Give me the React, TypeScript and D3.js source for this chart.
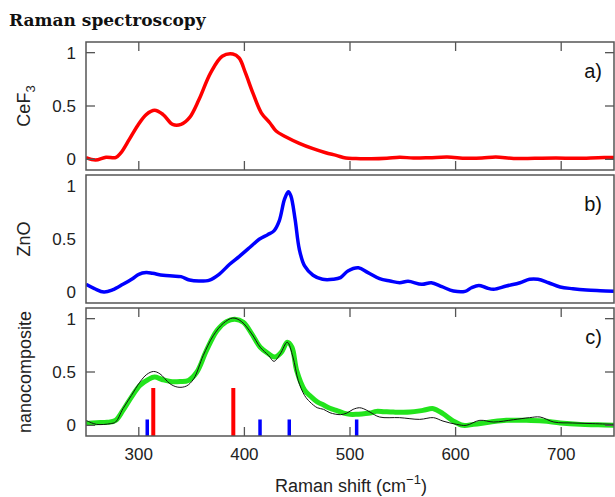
import * as d3 from "d3";

// CeF3 spectrum (panel a)
const cef3X = [250, 259, 269, 278, 283, 291, 299, 307, 315, 323, 332, 340, 348, 357, 368, 379, 389, 395, 401, 408, 416, 424, 430, 439, 452, 465, 477, 487, 496, 505, 520, 535, 547, 560, 575, 592, 610, 625, 638, 655, 675, 695, 715, 735, 750];
const cef3Y = [0.016, -0.006, 0.02, 0.016, 0.06, 0.187, 0.318, 0.42, 0.46, 0.42, 0.327, 0.327, 0.39, 0.56, 0.81, 0.966, 0.987, 0.95, 0.81, 0.623, 0.436, 0.343, 0.265, 0.212, 0.15, 0.1, 0.062, 0.037, 0.012, 0.008, 0.005, 0.01, 0.02, 0.012, 0.015, 0.022, 0.01, 0.012, 0.022, 0.008, 0.01, 0.012, 0.01, 0.015, 0.018];

// ZnO spectrum (panel b)
const znoX = [250, 258, 267, 275, 285, 294, 300, 307, 313, 323, 332, 340, 348, 357, 367, 376, 386, 395, 405, 414, 422, 428, 433, 438, 441.6, 444, 448, 452, 457, 465, 474, 484, 491, 498, 508, 517, 528, 538, 547, 555, 568, 577, 587, 598, 609, 615, 622, 629, 636, 648, 661, 670, 678, 688, 699, 711, 724, 737, 750];
const znoY = [0.075, 0.035, 0.003, 0.022, 0.075, 0.128, 0.169, 0.185, 0.178, 0.16, 0.153, 0.147, 0.115, 0.106, 0.115, 0.169, 0.263, 0.335, 0.42, 0.498, 0.54, 0.576, 0.67, 0.873, 0.942, 0.904, 0.685, 0.404, 0.247, 0.16, 0.122, 0.122, 0.138, 0.2, 0.23, 0.185, 0.128, 0.106, 0.09, 0.103, 0.075, 0.09, 0.053, 0.012, 0.009, 0.043, 0.065, 0.043, 0.028, 0.059, 0.09, 0.122, 0.122, 0.09, 0.05, 0.034, 0.022, 0.015, 0.009];

// nanocomposite, measured (green)
const compX = [250, 260, 270, 278, 285, 293, 301, 309, 315, 322, 330, 339, 347, 355, 364, 374, 383, 391, 399, 407, 415, 423, 429, 435, 440.6, 445, 449.5, 457, 463, 469, 475, 481, 487, 494, 500, 506, 513, 519, 525, 532, 541, 557, 569, 579, 588, 598, 607, 617, 633, 648, 667, 683, 699, 718, 735, 750];
const compY = [0.016, 0.025, 0.028, 0.047, 0.14, 0.265, 0.374, 0.43, 0.452, 0.43, 0.411, 0.411, 0.42, 0.5, 0.7, 0.888, 0.972, 0.994, 0.966, 0.857, 0.732, 0.67, 0.64, 0.685, 0.779, 0.732, 0.514, 0.33, 0.27, 0.22, 0.19, 0.16, 0.14, 0.115, 0.103, 0.103, 0.109, 0.115, 0.131, 0.128, 0.124, 0.124, 0.14, 0.156, 0.109, 0.04, 0.0, 0.009, 0.031, 0.047, 0.047, 0.04, 0.022, 0.009, 0.005, 0.0];

// nanocomposite, fit (black)
const fitX = [250, 260, 273, 278, 285, 293, 301, 307.5, 314, 320, 329.5, 337, 345, 352, 361, 370.5, 380, 389, 397, 407, 415, 423, 428, 434, 440.6, 446, 451, 457, 462, 469, 475, 481, 491, 497, 503, 509, 513, 519, 528, 547, 566, 579, 588, 601, 610, 623, 636, 655, 670, 680, 693, 711, 730, 750];
const fitY = [0.047, 0.009, 0.016, 0.031, 0.156, 0.28, 0.405, 0.477, 0.505, 0.483, 0.39, 0.358, 0.368, 0.436, 0.654, 0.84, 0.956, 1.006, 0.975, 0.857, 0.732, 0.654, 0.6, 0.67, 0.779, 0.64, 0.42, 0.28, 0.22, 0.165, 0.15, 0.118, 0.1, 0.115, 0.15, 0.165, 0.155, 0.124, 0.078, 0.072, 0.056, 0.072, 0.04, 0.009, 0.0, 0.047, 0.031, 0.053, 0.072, 0.078, 0.031, 0.022, 0.016, 0.009];

// reference line positions
const cef3Lines = [313.7, 389.5];
const cef3LineHeight = 0.35;
const znoLines = [308, 414.8, 442.5, 506.3];
const znoLineHeight = 0.055;

const xTicks = [300, 400, 500, 600, 700];
const yTicks = [0, 0.5, 1];
const yTickLabels = ["0", "0.5", "1"];

const W = 615;
const H = 497;
const left = 86;
const right = 614;
const frame = "#555";
const tickLen = 9;
const font = "'Liberation Sans', Arial, sans-serif";

const panels = [
  { top: 42, bottom: 170, tag: "a)", ticks: true },
  { top: 175, bottom: 303, tag: "b)", ticks: false },
  { top: 308, bottom: 436, tag: "c)", ticks: true },
];

const x = d3.scaleLinear().domain([250, 750]).range([left, right]);

const makeY = (p) => d3.scaleLinear().domain([-0.1, 1.1]).range([p.bottom, p.top]);

const pathOf = (xs, ys, y) =>
  d3
    .line()
    .x((d) => x(d[0]))
    .y((d) => y(d[1]))
    .curve(d3.curveCatmullRom.alpha(0.5))(xs.map((v, i) => [v, ys[i]]));

const Panel = ({ p, idx, children }) => {
  const y = makeY(p);
  return (
    <g>
      <defs>
        <clipPath id={`clip${idx}`}>
          <rect x={left} y={p.top} width={right - left} height={p.bottom - p.top} />
        </clipPath>
      </defs>
      <g clipPath={`url(#clip${idx})`}>{children(y)}</g>
      {p.ticks &&
        xTicks.map((t) => (
          <g key={t} stroke={frame} strokeWidth={1.3}>
            <line x1={x(t)} x2={x(t)} y1={p.top} y2={p.top + tickLen} />
            <line x1={x(t)} x2={x(t)} y1={p.bottom} y2={p.bottom - tickLen} />
          </g>
        ))}
      {p.ticks &&
        yTicks.map((t) => (
          <g key={t} stroke={frame} strokeWidth={1.3}>
            <line x1={left} x2={left + tickLen} y1={y(t)} y2={y(t)} />
            <line x1={right} x2={right - tickLen} y1={y(t)} y2={y(t)} />
          </g>
        ))}
      {yTicks.map((t, i) => (
        <text
          key={t}
          x={76}
          y={y(t)}
          dy="0.36em"
          textAnchor="end"
          fontSize={17}
          fontFamily={font}
          fill="#222"
        >
          {yTickLabels[i]}
        </text>
      ))}
      <rect
        x={left}
        y={p.top}
        width={right - left}
        height={p.bottom - p.top}
        fill="none"
        stroke={frame}
        strokeWidth={1.5}
      />
      <text x={602} y={p.top + 36} textAnchor="end" fontSize={20} fontFamily={font} fill="#111">
        {p.tag}
      </text>
    </g>
  );
};

export default function App() {
  const [pa, pb, pc] = panels;
  return (
    <svg
      width={W}
      height={H}
      style={{ position: "absolute", left: 0, top: 0, background: "#fff" }}
    >
      <text x={9} y={26} fontSize={17} fontWeight="bold" fontFamily="'DejaVu Serif', serif" fill="#111">
        Raman spectroscopy
      </text>

      <Panel p={pa} idx={0}>
        {(y) => <path d={pathOf(cef3X, cef3Y, y)} fill="none" stroke="#ff0000" strokeWidth={3.5} />}
      </Panel>
      <Panel p={pb} idx={1}>
        {(y) => <path d={pathOf(znoX, znoY, y)} fill="none" stroke="#0000ff" strokeWidth={3.5} />}
      </Panel>
      <Panel p={pc} idx={2}>
        {(y) => (
          <g>
            <path d={pathOf(compX, compY, y)} fill="none" stroke="#22e41c" strokeWidth={5} />
            <path d={pathOf(fitX, fitY, y)} fill="none" stroke="#111" strokeWidth={1} />
            {cef3Lines.map((v) => (
              <line key={v} x1={x(v)} x2={x(v)} y1={pc.bottom} y2={y(cef3LineHeight)} stroke="#ff0000" strokeWidth={4} />
            ))}
            {znoLines.map((v) => (
              <line key={v} x1={x(v)} x2={x(v)} y1={pc.bottom} y2={y(znoLineHeight)} stroke="#0000ff" strokeWidth={3.5} />
            ))}
          </g>
        )}
      </Panel>

      {xTicks.map((t) => (
        <text key={t} x={x(t)} y={460} textAnchor="middle" fontSize={17} fontFamily={font} fill="#222">
          {t}
        </text>
      ))}
      <text x={351} y={492} textAnchor="middle" fontSize={18} fontFamily={font} fill="#222">
        Raman shift (cm
        <tspan dy={-8} fontSize={13}>−1</tspan>
        <tspan dy={8}>)</tspan>
      </text>

      <text
        transform={`translate(30,${(pa.top + pa.bottom) / 2}) rotate(-90)`}
        textAnchor="middle"
        fontSize={18}
        fontFamily={font}
        fill="#222"
      >
        CeF
        <tspan dy={5} fontSize={13}>3</tspan>
      </text>
      <text
        transform={`translate(30,${(pb.top + pb.bottom) / 2}) rotate(-90)`}
        textAnchor="middle"
        fontSize={18}
        fontFamily={font}
        fill="#222"
      >
        ZnO
      </text>
      <text
        transform={`translate(31,${(pc.top + pc.bottom) / 2}) rotate(-90)`}
        textAnchor="middle"
        fontSize={18}
        fontFamily={font}
        fill="#222"
      >
        nanocomposite
      </text>
    </svg>
  );
}
